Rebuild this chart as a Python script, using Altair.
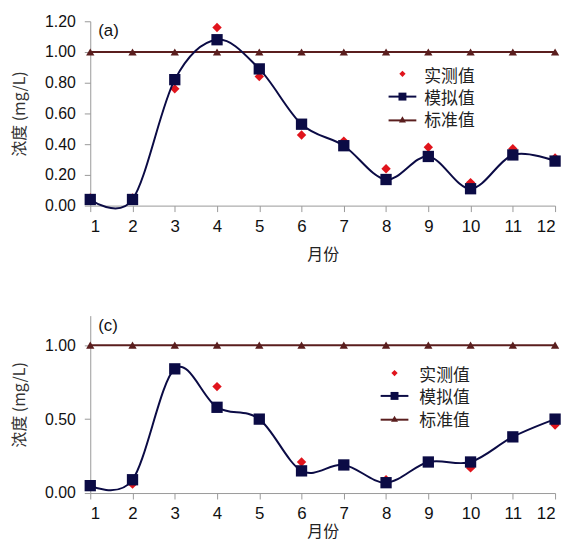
import altair as alt
import pandas as pd

months = list(range(1, 13))

# Panel (a)
a_measured = [0.05, 0.05, 0.76, 1.16, 0.84, 0.46, 0.42, 0.24, 0.38, 0.15, 0.37, 0.31]
a_simulated = [0.04, 0.04, 0.82, 1.08, 0.89, 0.53, 0.39, 0.17, 0.32, 0.11, 0.33, 0.29]
a_standard = [1.0] * 12

# Panel (c)
c_measured = [0.05, 0.06, 0.84, 0.72, 0.50, 0.21, 0.19, 0.09, 0.21, 0.17, 0.38, 0.46]
c_simulated = [0.05, 0.09, 0.84, 0.58, 0.50, 0.15, 0.19, 0.07, 0.21, 0.21, 0.38, 0.50]
c_standard = [1.0] * 12

legend_labels = ["实测值", "模拟值", "标准值"]

RED = "#e0141c"
NAVY = "#0b0b45"
MAROON = "#5a1e1e"
FONT = "Liberation Sans, Arial, Noto Sans CJK SC"
CJK = "Noto Sans CJK SC"

W = 469


def panel(measured, simulated, standard, tag, height, yticks, leg, xtitle_pad):
    df = pd.DataFrame({"month": months, "measured": measured,
                       "simulated": simulated, "standard": standard})
    x = alt.X("month:Q", scale=alt.Scale(domain=[1, 12], nice=False, zero=False),
              axis=alt.Axis(values=months, title="月份", format="d",
                            grid=False, tickSize=6, labelPadding=7,
                            titlePadding=xtitle_pad, titleFont=CJK,
                            titleFontWeight="normal", titleFontSize=16,
                            titleColor="#222", labelFont=FONT, labelFontSize=17,
                            labelColor="#111", labelOverlap=False,
                            domainColor="#999", tickColor="#999"))
    yscale = alt.Scale(domain=[0, 1.2], nice=False)
    yaxis = alt.Axis(values=yticks, format=".2f", title="浓度 (mg/L)", grid=False,
                     tickSize=6, labelPadding=9, titlePadding=17,
                     titleFont=CJK, titleFontWeight="normal", titleFontSize=16,
                     titleColor="#333", labelFont=FONT, labelFontSize=16,
                     labelColor="#111", labelOverlap=False,
                     domainColor="#999", tickColor="#999")

    def y(field):
        return alt.Y(field + ":Q", scale=yscale, axis=yaxis)

    base = alt.Chart(df)
    std_line = base.mark_line(color=MAROON, strokeWidth=2).encode(x=x, y=y("standard"))
    std_pts = base.mark_point(shape="triangle-up", filled=True, color=MAROON,
                              size=70, opacity=1).encode(x=x, y=y("standard"))
    meas = base.mark_point(shape="diamond", filled=True, color=RED, size=90,
                           opacity=1).encode(x=x, y=y("measured"))
    sim_line = base.mark_line(color=NAVY, strokeWidth=2, interpolate="cardinal").encode(
        x=x, y=y("simulated"))
    sim_pts = base.mark_point(shape="square", filled=True, color=NAVY, size=130,
                              opacity=1).encode(x=x, y=y("simulated"))

    one = alt.Chart(pd.DataFrame({"k": [0]}))
    lx, ly, tx = leg
    tag_text = one.mark_text(text=tag, font=FONT, fontSize=17, align="left",
                             baseline="middle", color="#111").encode(
        x=alt.value(8), y=alt.value(10))
    legend_layers = [
        one.mark_point(shape="diamond", filled=True, color=RED, size=40, opacity=1).encode(
            x=alt.value(lx), y=alt.value(ly)),
        one.mark_rule(color=NAVY, strokeWidth=2).encode(
            x=alt.value(lx - 14), x2=alt.value(lx + 14), y=alt.value(ly + 23)),
        one.mark_point(shape="square", filled=True, color=NAVY, size=64, opacity=1).encode(
            x=alt.value(lx), y=alt.value(ly + 23)),
        one.mark_rule(color=MAROON, strokeWidth=2).encode(
            x=alt.value(lx - 14), x2=alt.value(lx + 14), y=alt.value(ly + 47)),
        one.mark_point(shape="triangle-up", filled=True, color=MAROON, size=50, opacity=1).encode(
            x=alt.value(lx), y=alt.value(ly + 46)),
    ]
    for i, lab in enumerate(legend_labels):
        legend_layers.append(
            one.mark_text(text=lab, font=CJK, fontSize=17, align="left",
                          baseline="middle", color="#222").encode(
                x=alt.value(tx), y=alt.value(ly + 3 + 22.5 * i)))
    return alt.layer(std_line, std_pts, meas, sim_line, sim_pts, tag_text,
                     *legend_layers).properties(width=W, height=height)


top = panel(a_measured, a_simulated, a_standard, "(a)", 186,
            [0, 0.2, 0.4, 0.6, 0.8, 1.0, 1.2], (315, 53, 337), 12)
bottom = panel(c_measured, c_simulated, c_standard, "(c)", 179,
               [0, 0.5, 1.0], (307, 58, 332), 2)

chart = alt.vconcat(top, bottom, spacing=54).properties(
    padding={"left": 3, "top": 3, "right": 3, "bottom": 0},
    background="white"
).configure_view(stroke=None)

chart.save("out.html", embed_options={"renderer": "svg", "actions": False})
